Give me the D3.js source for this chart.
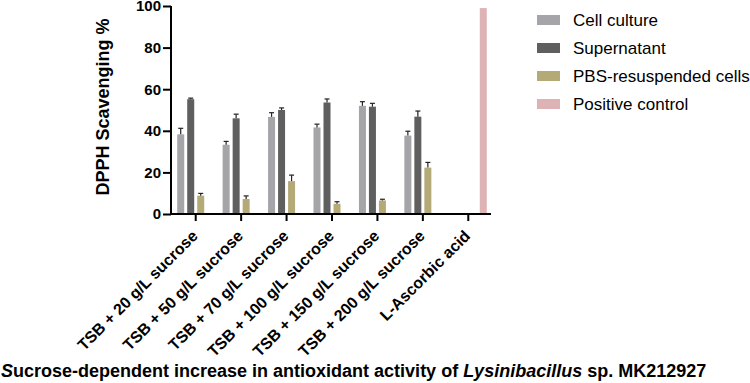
<!DOCTYPE html>
<html>
<head>
<meta charset="utf-8">
<script src="https://d3js.org/d3.v7.min.js"></script>
<style>
  body { margin: 0; background: #fff; }
  text { font-family: Arial, "Liberation Sans", sans-serif; }
</style>
</head>
<body>
<div id="chart"></div>
<script>
// data
var categories = ["TSB + 20 g/L sucrose", "TSB + 50 g/L sucrose", "TSB + 70 g/L sucrose",
    "TSB + 100 g/L sucrose", "TSB + 150 g/L sucrose", "TSB + 200 g/L sucrose", "L-Ascorbic acid"];
var series = ["Cell culture", "Supernatant", "PBS-resuspended cells", "Positive control"];
var colors = ["#a4a4a9", "#5f5f5f", "#b4aa78", "#ddb3b6"];

// mean values per series (null = no bar)
var cellCulture = [38.3, 33.3, 46.7, 41.6, 52.0, 37.7, null];
var supernatant = [55.2, 46.0, 50.0, 53.6, 51.6, 46.8, null];
var pbsCells = [8.8, 7.2, 15.8, 4.9, 6.5, 22.3, null];
var positiveControl = [null, null, null, null, null, null, 99];

// upper error (SD)
var cellCultureErr = [2.9, 1.6, 2.0, 1.6, 2.0, 2.1, null];
var supernatantErr = [0.5, 2.0, 1.0, 1.7, 1.6, 2.7, null];
var pbsCellsErr = [1.1, 1.5, 2.9, 1.0, 0.6, 2.5, null];
var positiveControlErr = [null, null, null, null, null, null, 0];

var yTicks = [0, 20, 40, 60, 80, 100];

var values = [cellCulture, supernatant, pbsCells, positiveControl];
var errors = [cellCultureErr, supernatantErr, pbsCellsErr, positiveControlErr];

var width = 750, height = 383;
var svg = d3.select("#chart").append("svg")
    .attr("width", width)
    .attr("height", height);

var plotLeft = 171, plotRight = 491, plotTop = 6, plotBottom = 214;

var x0 = d3.scaleBand()
    .domain(categories)
    .range([plotLeft + 2, plotRight])
    .paddingInner(0)
    .paddingOuter(0);

var x1 = d3.scaleBand()
    .domain(series)
    .range([x0.bandwidth() / 2 - 20, x0.bandwidth() / 2 + 20])
    .paddingInner(0.3)
    .paddingOuter(0.15);

var y = d3.scaleLinear()
    .domain([0, 100])
    .range([plotBottom, plotTop]);

// flatten into bar records
var bars = [];
series.forEach(function(s, si) {
    categories.forEach(function(c, ci) {
        var v = values[si][ci];
        if (v == null) return;
        bars.push({ cat: c, series: s, idx: si, value: v, err: errors[si][ci] });
    });
});

var g = svg.append("g");

g.selectAll("rect.bar")
    .data(bars)
    .enter()
    .append("rect")
    .attr("class", "bar")
    .attr("x", function(d) { return x0(d.cat) + x1(d.series); })
    .attr("width", x1.bandwidth())
    .attr("y", function(d) { return y(d.value); })
    .attr("height", function(d) { return y(0) - y(d.value); })
    .attr("fill", function(d) { return colors[d.idx]; });

// error bars (upper only, with cap)
var eb = g.selectAll("g.err")
    .data(bars.filter(function(d) { return d.err > 0; }))
    .enter()
    .append("g")
    .attr("class", "err")
    .attr("stroke", "#222")
    .attr("stroke-width", 1.2);

function barMid(d) { return x0(d.cat) + x1(d.series) + x1.bandwidth() / 2; }

eb.append("line")
    .attr("x1", barMid)
    .attr("x2", barMid)
    .attr("y1", function(d) { return y(d.value); })
    .attr("y2", function(d) { return y(d.value + d.err); });

eb.append("line")
    .attr("x1", function(d) { return barMid(d) - 2.5; })
    .attr("x2", function(d) { return barMid(d) + 2.5; })
    .attr("y1", function(d) { return y(d.value + d.err); })
    .attr("y2", function(d) { return y(d.value + d.err); });

// y axis
var yAxis = svg.append("g")
    .attr("transform", "translate(" + plotLeft + ",0)")
    .call(d3.axisLeft(y).tickValues(yTicks).tickSize(8).tickPadding(2));
yAxis.select(".domain").attr("stroke", "#000").attr("stroke-width", 2)
    .attr("d", "M0," + (plotBottom + 1) + "V" + plotTop);
yAxis.selectAll(".tick line").attr("stroke", "#000").attr("stroke-width", 2);
yAxis.selectAll(".tick text")
    .attr("fill", "#000")
    .style("font-size", "15px")
    .style("font-weight", "bold");

// x axis
var xAxis = svg.append("g")
    .attr("transform", "translate(0," + plotBottom + ")")
    .call(d3.axisBottom(x0).tickSize(7).tickSizeOuter(0).tickPadding(4));
xAxis.select(".domain").attr("stroke", "#000").attr("stroke-width", 2)
    .attr("d", "M" + (plotLeft - 1) + ",0H" + plotRight);
xAxis.selectAll(".tick line").attr("stroke", "#000").attr("stroke-width", 2);
xAxis.selectAll(".tick text")
    .attr("fill", "#000")
    .attr("y", 0)
    .style("font-size", "16px")
    .style("font-weight", "bold")
    .attr("text-anchor", "end")
    .attr("dy", "0.35em")
    .attr("transform", "translate(-1,19) rotate(-45)");

// y axis title
svg.append("text")
    .attr("transform", "translate(109,107) rotate(-90)")
    .attr("text-anchor", "middle")
    .style("font-size", "18px")
    .style("font-weight", "bold")
    .text("DPPH Scavenging %");

// legend
var legend = svg.append("g").attr("transform", "translate(537,0)");
var rows = legend.selectAll("g")
    .data(series)
    .enter()
    .append("g")
    .attr("transform", function(d, i) { return "translate(0," + (20 + i * 28) + ")"; });
rows.append("rect")
    .attr("x", 0).attr("y", -5)
    .attr("width", 23).attr("height", 10)
    .attr("fill", function(d, i) { return colors[i]; });
rows.append("text")
    .attr("x", 36)
    .attr("dy", "0.35em")
    .style("font-size", "17px")
    .text(function(d) { return d; });

// caption
var cap = svg.append("text")
    .attr("x", 1)
    .attr("y", 377)
    .style("font-size", "18px")
    .style("font-weight", "bold");
cap.append("tspan").style("font-style", "italic").text("S");
cap.append("tspan").text("ucrose-dependent increase in antioxidant activity of ");
cap.append("tspan").style("font-style", "italic").text("Lysinibacillus");
cap.append("tspan").text(" sp. MK212927");
</script>
</body>
</html>
